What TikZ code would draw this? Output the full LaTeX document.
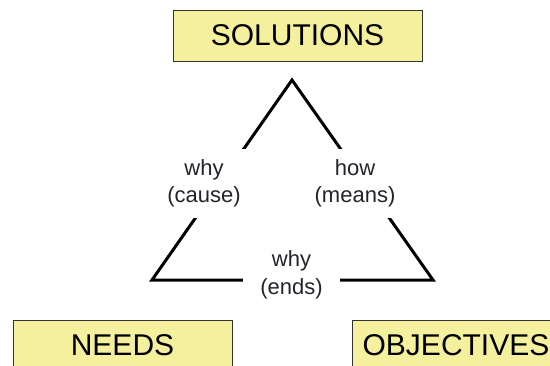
\documentclass[tikz,border=0pt]{standalone}
\usepackage{fontspec}
\setmainfont{Liberation Sans}
\definecolor{boxyellow}{RGB}{245,240,158}
\definecolor{boxline}{RGB}{50,50,50}
\definecolor{labeltext}{RGB}{35,35,45}
\begin{document}
\begin{tikzpicture}[x=1pt,y=-1pt,
  bigbox/.style={draw=boxline,line width=1pt,fill=boxyellow,rectangle,inner sep=0pt,
    minimum height=51pt,font=\fontsize{30}{30}\selectfont},
  edgelabel/.style={fill=white,rectangle,inner sep=0pt,align=center,text=labeltext,
    font=\fontsize{22}{27.5}\selectfont},
  side/.style={line width=3pt,line cap=butt,line join=miter}]
\useasboundingbox (0,0) rectangle (550,365);
\clip (0,0) rectangle (550,365);
\node[bigbox,minimum width=249pt] (sol) at (297.5,35.5) {SOLUTIONS};
\node[bigbox,minimum width=219pt] (needs) at (122.5,345.5) {NEEDS};
\node[bigbox,minimum width=208pt] (obj) at (456,345.5) {OBJECTIVES};
\coordinate (apex) at (292,80);
\coordinate (bl) at (152,280);
\coordinate (br) at (433,280);
\draw[side] (bl) -- (apex) -- (br) -- cycle;
\node[edgelabel,minimum width=88pt,minimum height=69pt] (cause) at (204,183.5) {why\\(cause)};
\node[edgelabel,minimum width=90pt,minimum height=69pt] (means) at (355,183.5) {how\\(means)};
\node[edgelabel,minimum width=97pt,minimum height=50pt] (ends) at (291.5,275) {why\\(ends)};
\end{tikzpicture}
\end{document}
